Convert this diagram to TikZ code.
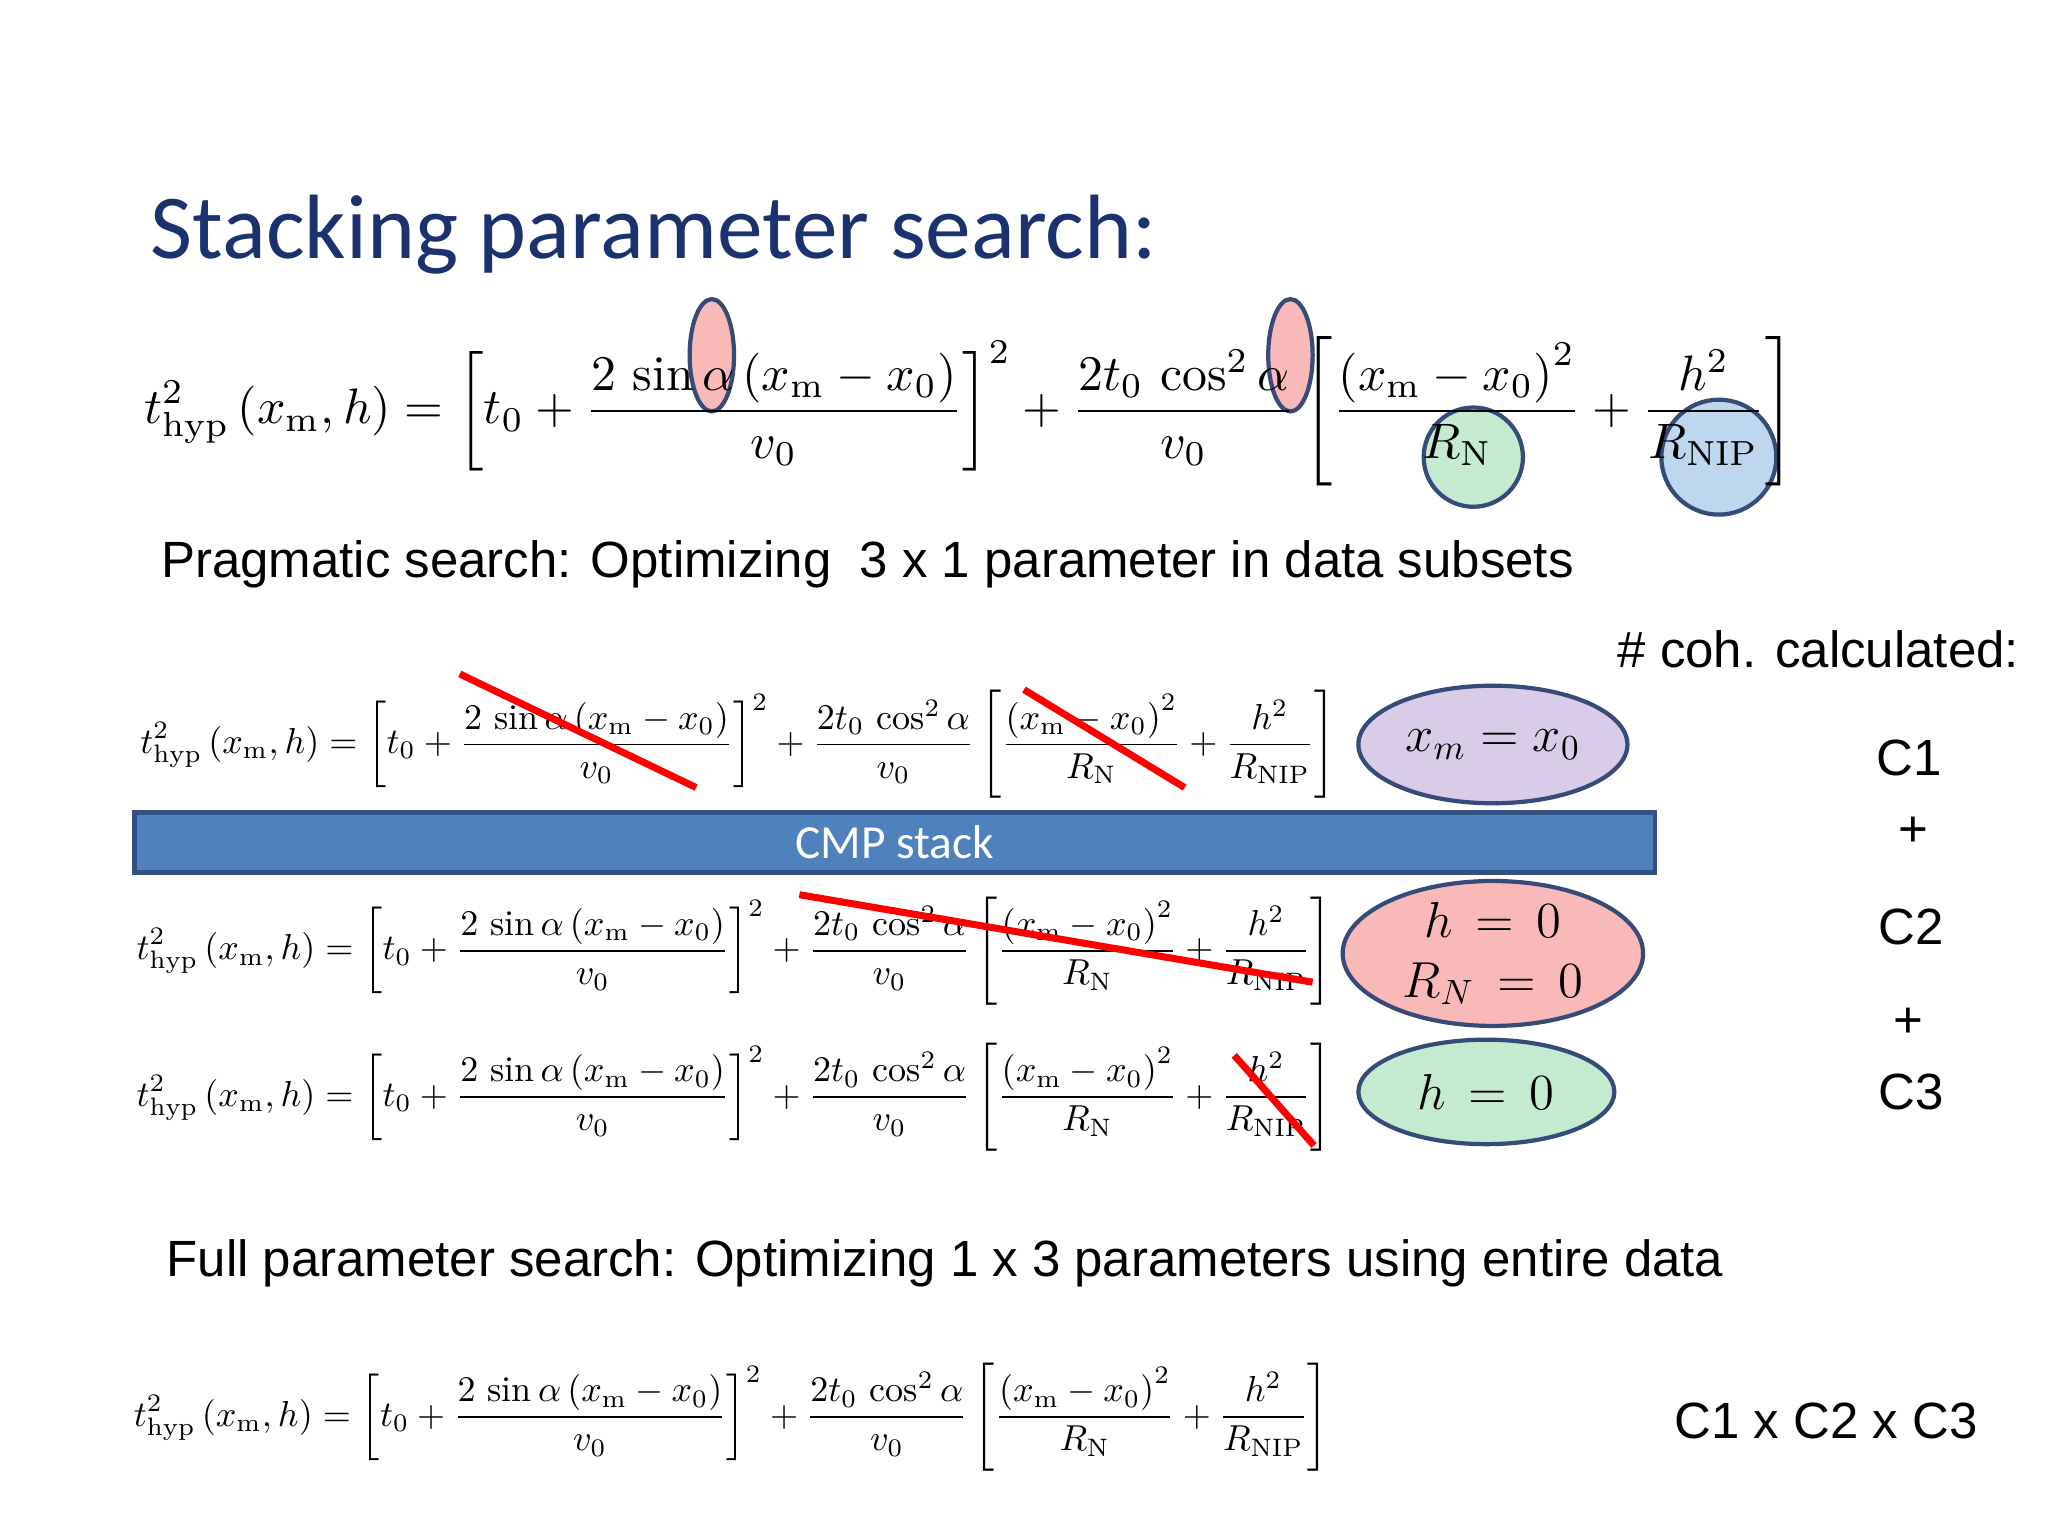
\documentclass[tikz,border=0pt]{standalone}
\usepackage{fontspec}
\usepackage{amsmath}
\setsansfont{Liberation Sans}
\newfontfamily\titlefont{Carlito}
\usetikzlibrary{shapes.geometric}
\definecolor{titleblue}{RGB}{28,50,110}
\definecolor{barblue}{RGB}{79,129,189}
\definecolor{barborder}{RGB}{50,80,130}
\definecolor{ellborder}{RGB}{55,75,120}
\definecolor{ellpurple}{RGB}{216,204,232}
\definecolor{ellpink}{RGB}{250,185,185}
\definecolor{ellgreen}{RGB}{196,234,208}
\definecolor{ellblue}{RGB}{190,215,238}
\def\pxu{0.013061cm}
\newcommand{\hypeq}{$\displaystyle t^2_{\mathrm{hyp}}\left(x_\mathrm{m},h\right) = \left[t_0 + \frac{2\,\sin\alpha\left(x_\mathrm{m}-x_0\right)}{v_0}\right]^2 + \frac{2t_0\,\cos^2\alpha}{v_0}\left[\frac{\left(x_\mathrm{m}-x_0\right)^2}{R_\mathrm{N}}+\frac{h^2}{R_\mathrm{NIP}}\right]$}
\tikzset{
 body/.style={font=\sffamily\fontsize{14.5}{17}\selectfont, anchor=west, inner sep=0},
 clab/.style={font=\sffamily\fontsize{14.5}{17}\selectfont, inner sep=0},
 ovalmark/.style={draw=ellborder, line width=1.2pt, ellipse, inner sep=0},
 strike/.style={draw=red, line width=2pt},
}
\begin{document}
\begin{tikzpicture}[x=0.013061cm,y=-0.013061cm]
\useasboundingbox (0,0) rectangle (1568,1176);
\node[anchor=west, inner sep=0, text=titleblue, font=\titlefont\fontsize{26}{30}\selectfont] (title) at (115,180) {Stacking parameter search:};
\node[ovalmark, fill=ellpink, minimum width=34*\pxu, minimum height=86*\pxu] (s1) at (545,272) {};
\node[ovalmark, fill=ellpink, minimum width=34*\pxu, minimum height=86*\pxu] (s2) at (988,272) {};
\node[ovalmark, fill=ellgreen, minimum width=76*\pxu, minimum height=76*\pxu] (s3) at (1128,350) {};
\node[ovalmark, fill=ellblue, minimum width=88*\pxu, minimum height=88*\pxu] (s4) at (1316,350) {};
\node[inner sep=0] (eq0) at (742,315) {\resizebox{16.5cm}{!}{\hypeq}};
\node[body] (prag) at (123,432) {Pragmatic search: Optimizing\ \ 3 x 1 parameter in data subsets};
\node[body] (coh) at (1238,497) {\# coh. calculated:};
\node[inner sep=0] (eq1) at (565,570) {\resizebox{11.95cm}{!}{\hypeq}};
\draw[strike] (352,516) -- (533,603);
\draw[strike] (784,528) -- (907,603);
\node[ovalmark, fill=ellpurple, minimum width=206*\pxu, minimum height=90*\pxu, font=\fontsize{14.5}{16}\selectfont] (e1) at (1143,570) {$x_m = x_0$};
\node[draw=barborder, line width=1.2pt, fill=barblue, minimum width=1164*\pxu, minimum height=46*\pxu, inner sep=0, text=white, font=\titlefont\fontsize{13.5}{16}\selectfont] (bar) at (685,645) {CMP stack};
\node[inner sep=0] (eq2) at (562,728) {\resizebox{11.95cm}{!}{\hypeq}};
\draw[strike] (612,685) -- (1005,752);
\node[ovalmark, fill=ellpink, minimum width=230*\pxu, minimum height=104*\pxu, align=center, font=\fontsize{14.5}{16}\selectfont] (e2) at (1143,730) {$h\,=\,0$\\[1pt]$R_N\,=\,0$};
\node[inner sep=0] (eq3) at (562,840) {\resizebox{11.95cm}{!}{\hypeq}};
\draw[strike] (945,808) -- (1006,877);
\node[ovalmark, fill=ellgreen, minimum width=196*\pxu, minimum height=80*\pxu, font=\fontsize{14.5}{16}\selectfont] (e3) at (1138,836) {$h\,=\,0$};
\node[clab] (c1) at (1462,580) {C1};
\node[clab] (p1) at (1465,637) {+};
\node[clab] (c2) at (1463,710) {C2};
\node[clab] (p2) at (1461,783) {+};
\node[clab] (c3) at (1463,836) {C3};
\node[body] (full) at (127,967) {Full parameter search: Optimizing 1 x 3 parameters using entire data};
\node[inner sep=0] (eq4) at (560,1085) {\resizebox{11.95cm}{!}{\hypeq}};
\node[clab] (call) at (1398,1088) {C1 x C2 x C3};
\end{tikzpicture}
\end{document}
